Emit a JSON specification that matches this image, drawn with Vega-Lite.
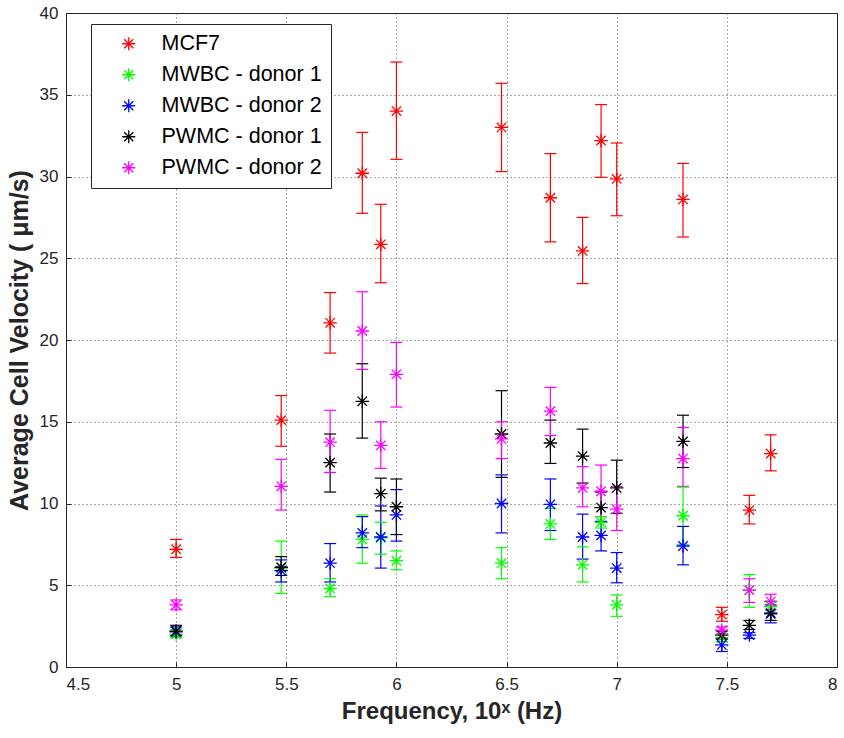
{
  "$schema": "https://vega.github.io/schema/vega-lite/v6.json",
  "autosize": "none",
  "width": 771,
  "height": 654,
  "padding": {"left": 66, "top": 13, "right": 7, "bottom": 71},
  "background": "white",
  "config": {
    "font": "Liberation Sans",
    "view": {"stroke": "#262626", "strokeWidth": 1},
    "axis": {
      "domainColor": "#262626",
      "gridColor": "#262626",
      "gridDash": [1, 3],
      "gridOpacity": 0.8,
      "labelFont": "Liberation Sans",
      "labelFontSize": 17,
      "labelColor": "#262626",
      "titleFont": "Liberation Sans",
      "titleFontSize": 24,
      "titleFontWeight": "bold",
      "titleColor": "#262626",
      "tickColor": "#262626",
      "tickSize": -5
    },
    "legend": {
      "orient": "none",
      "legendX": 25,
      "legendY": 11,
      "strokeColor": "#262626",
      "fillColor": "white",
      "padding": 9,
      "symbolOffset": 18,
      "labelOffset": 22,
      "labelFont": "Liberation Sans",
      "labelFontSize": 21.5,
      "labelColor": "black",
      "rowPadding": 8,
      "labelLimit": 300
    }
  },
  "data": {"values": [
    {"s":"MCF7","x":5,"y":7.2,"lo":6.7,"hi":7.8},
    {"s":"MCF7","x":5.477,"y":15.1,"lo":13.5,"hi":16.6},
    {"s":"MCF7","x":5.699,"y":21.05,"lo":19.2,"hi":22.9},
    {"s":"MCF7","x":5.845,"y":30.2,"lo":27.75,"hi":32.7},
    {"s":"MCF7","x":5.929,"y":25.85,"lo":23.5,"hi":28.3},
    {"s":"MCF7","x":6,"y":34.0,"lo":31.05,"hi":37.0},
    {"s":"MCF7","x":6.477,"y":33.0,"lo":30.3,"hi":35.7},
    {"s":"MCF7","x":6.699,"y":28.7,"lo":26.0,"hi":31.4},
    {"s":"MCF7","x":6.845,"y":25.45,"lo":23.45,"hi":27.5},
    {"s":"MCF7","x":6.929,"y":32.2,"lo":29.95,"hi":34.4},
    {"s":"MCF7","x":7,"y":29.85,"lo":27.6,"hi":32.05},
    {"s":"MCF7","x":7.301,"y":28.6,"lo":26.3,"hi":30.8},
    {"s":"MCF7","x":7.477,"y":3.2,"lo":2.8,"hi":3.65},
    {"s":"MCF7","x":7.602,"y":9.6,"lo":8.75,"hi":10.5},
    {"s":"MCF7","x":7.699,"y":13.05,"lo":12.0,"hi":14.2},

    {"s":"MWBC - donor 1","x":5,"y":2.0,"lo":1.8,"hi":2.3},
    {"s":"MWBC - donor 1","x":5.477,"y":6.05,"lo":4.5,"hi":7.7},
    {"s":"MWBC - donor 1","x":5.699,"y":4.8,"lo":4.3,"hi":5.4},
    {"s":"MWBC - donor 1","x":5.845,"y":7.8,"lo":6.35,"hi":9.3},
    {"s":"MWBC - donor 1","x":5.929,"y":7.9,"lo":6.9,"hi":8.85},
    {"s":"MWBC - donor 1","x":6,"y":6.5,"lo":5.95,"hi":7.1},
    {"s":"MWBC - donor 1","x":6.477,"y":6.35,"lo":5.4,"hi":7.3},
    {"s":"MWBC - donor 1","x":6.699,"y":8.75,"lo":7.8,"hi":9.7},
    {"s":"MWBC - donor 1","x":6.845,"y":6.25,"lo":5.2,"hi":7.35},
    {"s":"MWBC - donor 1","x":6.929,"y":8.85,"lo":8.5,"hi":9.2},
    {"s":"MWBC - donor 1","x":7,"y":3.8,"lo":3.1,"hi":4.4},
    {"s":"MWBC - donor 1","x":7.301,"y":9.25,"lo":7.5,"hi":11.0},
    {"s":"MWBC - donor 1","x":7.477,"y":1.8,"lo":1.55,"hi":2.05},
    {"s":"MWBC - donor 1","x":7.602,"y":4.7,"lo":3.65,"hi":5.65},
    {"s":"MWBC - donor 1","x":7.699,"y":3.7,"lo":3.3,"hi":4.05},

    {"s":"MWBC - donor 2","x":5,"y":2.15,"lo":1.95,"hi":2.45},
    {"s":"MWBC - donor 2","x":5.477,"y":5.9,"lo":5.2,"hi":6.55},
    {"s":"MWBC - donor 2","x":5.699,"y":6.35,"lo":5.2,"hi":7.55},
    {"s":"MWBC - donor 2","x":5.845,"y":8.2,"lo":7.3,"hi":9.2},
    {"s":"MWBC - donor 2","x":5.929,"y":7.95,"lo":6.05,"hi":9.85},
    {"s":"MWBC - donor 2","x":6,"y":9.3,"lo":7.7,"hi":10.85},
    {"s":"MWBC - donor 2","x":6.477,"y":10.0,"lo":8.2,"hi":11.75},
    {"s":"MWBC - donor 2","x":6.699,"y":9.95,"lo":8.35,"hi":11.5},
    {"s":"MWBC - donor 2","x":6.845,"y":7.95,"lo":6.6,"hi":9.35},
    {"s":"MWBC - donor 2","x":6.929,"y":8.05,"lo":7.1,"hi":8.9},
    {"s":"MWBC - donor 2","x":7,"y":6.05,"lo":5.15,"hi":7.0},
    {"s":"MWBC - donor 2","x":7.301,"y":7.4,"lo":6.25,"hi":8.6},
    {"s":"MWBC - donor 2","x":7.477,"y":1.35,"lo":0.95,"hi":1.75},
    {"s":"MWBC - donor 2","x":7.602,"y":1.95,"lo":1.75,"hi":2.1},
    {"s":"MWBC - donor 2","x":7.699,"y":3.25,"lo":2.7,"hi":3.8},

    {"s":"PWMC - donor 1","x":5,"y":2.2,"lo":1.9,"hi":2.55},
    {"s":"PWMC - donor 1","x":5.477,"y":6.1,"lo":5.6,"hi":6.75},
    {"s":"PWMC - donor 1","x":5.699,"y":12.5,"lo":10.7,"hi":14.25},
    {"s":"PWMC - donor 1","x":5.845,"y":16.25,"lo":14.0,"hi":18.55},
    {"s":"PWMC - donor 1","x":5.929,"y":10.6,"lo":9.55,"hi":11.55},
    {"s":"PWMC - donor 1","x":6,"y":9.8,"lo":8.1,"hi":11.5},
    {"s":"PWMC - donor 1","x":6.477,"y":14.25,"lo":11.6,"hi":16.9},
    {"s":"PWMC - donor 1","x":6.699,"y":13.7,"lo":12.45,"hi":15.1},
    {"s":"PWMC - donor 1","x":6.845,"y":12.9,"lo":11.25,"hi":14.55},
    {"s":"PWMC - donor 1","x":6.929,"y":9.75,"lo":8.9,"hi":10.7},
    {"s":"PWMC - donor 1","x":7,"y":10.95,"lo":9.4,"hi":12.65},
    {"s":"PWMC - donor 1","x":7.301,"y":13.8,"lo":12.2,"hi":15.4},
    {"s":"PWMC - donor 1","x":7.477,"y":1.95,"lo":1.7,"hi":2.2},
    {"s":"PWMC - donor 1","x":7.602,"y":2.55,"lo":2.3,"hi":2.85},
    {"s":"PWMC - donor 1","x":7.699,"y":3.3,"lo":2.85,"hi":3.7},

    {"s":"PWMC - donor 2","x":5,"y":3.8,"lo":3.5,"hi":4.1},
    {"s":"PWMC - donor 2","x":5.477,"y":11.05,"lo":9.6,"hi":12.7},
    {"s":"PWMC - donor 2","x":5.699,"y":13.75,"lo":11.9,"hi":15.7},
    {"s":"PWMC - donor 2","x":5.845,"y":20.55,"lo":18.2,"hi":22.95},
    {"s":"PWMC - donor 2","x":5.929,"y":13.55,"lo":12.15,"hi":15.0},
    {"s":"PWMC - donor 2","x":6,"y":17.9,"lo":15.9,"hi":19.85},
    {"s":"PWMC - donor 2","x":6.477,"y":13.95,"lo":12.75,"hi":15.0},
    {"s":"PWMC - donor 2","x":6.699,"y":15.65,"lo":14.15,"hi":17.1},
    {"s":"PWMC - donor 2","x":6.845,"y":10.95,"lo":9.8,"hi":12.25},
    {"s":"PWMC - donor 2","x":6.929,"y":10.75,"lo":9.2,"hi":12.35},
    {"s":"PWMC - donor 2","x":7,"y":9.65,"lo":8.35,"hi":11.05},
    {"s":"PWMC - donor 2","x":7.301,"y":12.75,"lo":11.05,"hi":14.65},
    {"s":"PWMC - donor 2","x":7.477,"y":2.25,"lo":2.05,"hi":2.45},
    {"s":"PWMC - donor 2","x":7.602,"y":4.7,"lo":3.95,"hi":5.4},
    {"s":"PWMC - donor 2","x":7.699,"y":4.0,"lo":3.5,"hi":4.45}
  ]},
  "encoding": {
    "x": {
      "field": "x", "type": "quantitative",
      "scale": {"domain": [4.5, 8], "nice": false, "zero": false},
      "axis": {
        "values": [4.5, 5, 5.5, 6, 6.5, 7, 7.5, 8],
        "format": "~g",
        "labelPadding": 14,
        "title": "Frequency, 10ˣ (Hz)",
        "titlePadding": 7
      }
    },
    "color": {
      "field": "s", "type": "nominal",
      "scale": {
        "domain": ["MCF7", "MWBC - donor 1", "MWBC - donor 2", "PWMC - donor 1", "PWMC - donor 2"],
        "range": ["#ff0000", "#00ff00", "#0000ff", "#000000", "#ff00ff"]
      },
      "legend": {
        "title": null,
        "symbolType": "M-1,0L1,0M0,-1L0,1M-0.7,-0.7L0.7,0.7M-0.7,0.7L0.7,-0.7",
        "symbolStrokeWidth": 1.3,
        "symbolSize": 170
      }
    }
  },
  "layer": [
    {
      "mark": {"type": "rule", "strokeWidth": 1.2},
      "encoding": {
        "y": {"field": "lo", "type": "quantitative"},
        "y2": {"field": "hi"}
      }
    },
    {
      "mark": {"type": "point", "shape": "M-1,0L1,0", "size": 144, "filled": false, "strokeWidth": 1.2, "opacity": 1},
      "encoding": {
        "y": {"field": "lo", "type": "quantitative"}
      }
    },
    {
      "mark": {"type": "point", "shape": "M-1,0L1,0", "size": 144, "filled": false, "strokeWidth": 1.2, "opacity": 1},
      "encoding": {
        "y": {"field": "hi", "type": "quantitative"}
      }
    },
    {
      "mark": {"type": "point", "shape": "M-1,0L1,0M0,-1L0,1M-0.7,-0.7L0.7,0.7M-0.7,0.7L0.7,-0.7", "size": 180, "filled": false, "strokeWidth": 1.3, "opacity": 1},
      "encoding": {
        "y": {
          "field": "y", "type": "quantitative",
          "scale": {"domain": [0, 40], "nice": false},
          "axis": {
            "values": [0, 5, 10, 15, 20, 25, 30, 35, 40],
            "labelPadding": 13,
            "title": "Average Cell Velocity ( μm/s)",
            "titleFontSize": 25,
            "titlePadding": 7
          }
        }
      }
    }
  ]
}
